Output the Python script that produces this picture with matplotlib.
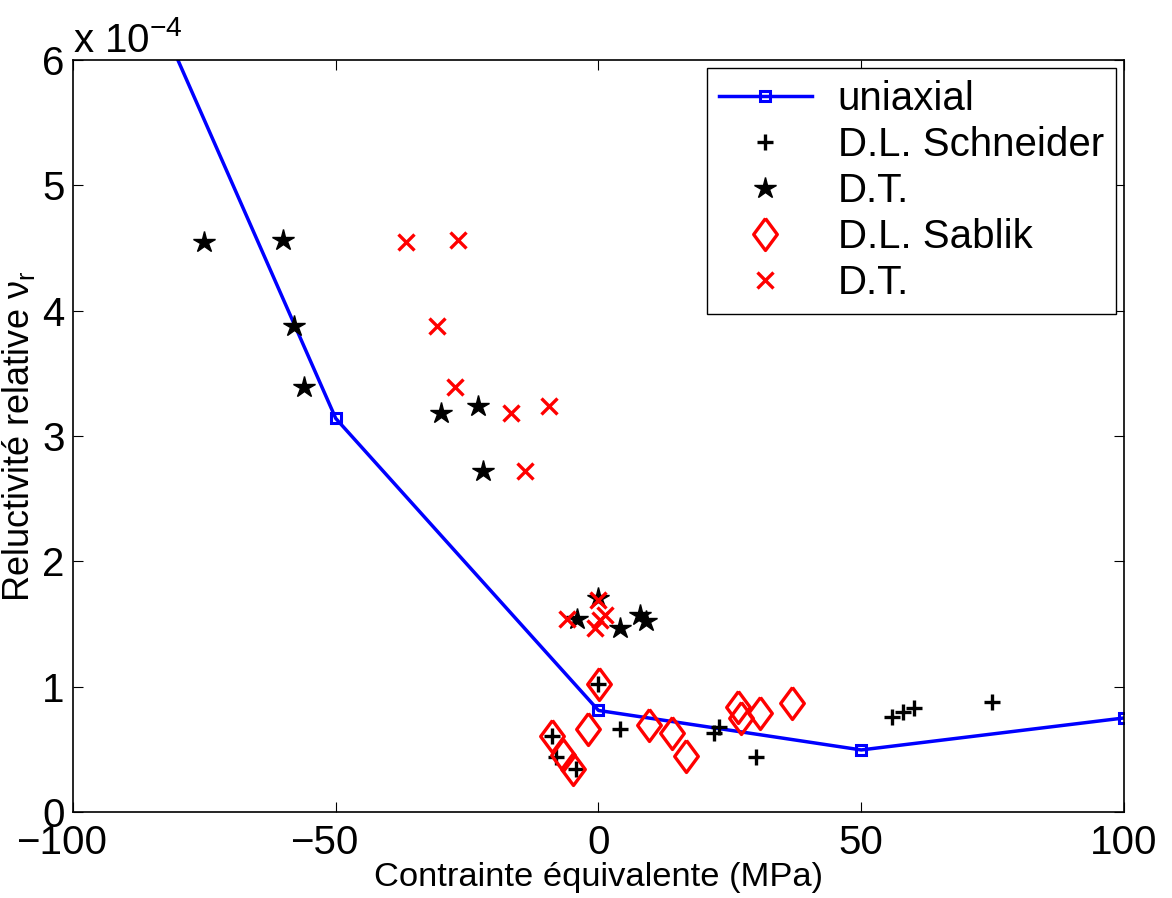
import matplotlib
matplotlib.use("Agg")
import matplotlib.pyplot as plt
from matplotlib.transforms import ScaledTranslation

plt.rcParams['font.family'] = ['Liberation Sans', 'DejaVu Sans']
plt.rcParams['mathtext.fontset'] = 'custom'
plt.rcParams['mathtext.rm'] = 'Liberation Sans'
plt.rcParams['mathtext.it'] = 'Liberation Sans'

# values in units of 1e-4
uni_x = [-100, -50, 0, 50, 100]
uni_y = [7.9, 3.14, 0.81, 0.495, 0.75]

schneider_x = [-8.9, -8.0, -4.2, 0.0, 4.0, 22.0, 22.9, 30.0, 55.8, 57.9, 60.0, 74.9]
schneider_y = [0.61, 0.44, 0.34, 1.02, 0.66, 0.63, 0.68, 0.44, 0.76, 0.80, 0.83, 0.875]

dt_black_x = [-75.0, -60.0, -57.9, -56.0, -30.0, -23.0, -22.0, -4.0, 0.0, 4.0, 7.9, 9.0]
dt_black_y = [4.55, 4.56, 3.88, 3.39, 3.18, 3.24, 2.72, 1.54, 1.71, 1.47, 1.57, 1.52]

sablik_x = [-8.9, -6.7, -4.8, -1.9, 0.1, 9.6, 14.0, 16.6, 26.6, 27.2, 30.7, 36.8]
sablik_y = [0.61, 0.455, 0.34, 0.66, 1.02, 0.69, 0.63, 0.45, 0.84, 0.75, 0.79, 0.87]

dt_red_x = [-36.6, -26.7, -30.7, -27.3, -16.7, -9.4, -14.0, -6.0, 0.0, 1.2, -0.7, 0.3]
dt_red_y = [4.55, 4.56, 3.88, 3.39, 3.18, 3.24, 2.72, 1.54, 1.69, 1.57, 1.47, 1.53]

x_ticks = [-100, -50, 0, 50, 100]
y_ticks = [0, 1, 2, 3, 4, 5, 6]

# matlab-like diamond (wider than 'd')
diamond = [(0, 1), (0.74, 0), (0, -1), (-0.74, 0), (0, 1)]

fig = plt.figure(figsize=(11.72, 8.98), dpi=100)
ax = fig.add_axes([0.0623, 0.0958, 0.8967, 0.8374])

ax.plot(uni_x, uni_y, '-', color='blue', lw=2.5, marker='s', ms=7.5,
        mfc='none', mec='blue', mew=2.2, label='uniaxial')
ax.plot(schneider_x, schneider_y, '+', color='black', ms=11, mew=2.4,
        label='D.L. Schneider')
ax.plot(dt_black_x, dt_black_y, '*', color='black', ms=16, label='D.T.')
ax.plot(sablik_x, sablik_y, ls='none', marker=diamond, ms=23, mfc='none',
        mec='red', mew=2.4, label='D.L. Sablik')
ax.plot(dt_red_x, dt_red_y, 'x', color='red', ms=11, mew=2.4, label='D.T.')

ax.set_xlim(-100, 100)
ax.set_ylim(0, 6)
ax.set_xticks(x_ticks)
ax.set_yticks(y_ticks)
ax.tick_params(direction='in', length=7, width=0.8, top=True, right=True,
               labelsize=29)
ax.tick_params(axis='x', pad=9)
ax.tick_params(axis='y', pad=6)
for s in ax.spines.values():
    s.set_linewidth(1.2)

ax.set_xlabel('Contrainte équivalente (MPa)', fontsize=24.8, labelpad=0)
ax.set_ylabel('Reluctivité relative ν$_{\\mathrm{r}}$', fontsize=26, labelpad=4)
fig.text(0.0623, 0.942, 'x 10$^{-4}$', fontsize=29, ha='left', va='baseline')

leg = ax.legend(loc='upper right', fontsize=29, fancybox=False, framealpha=1,
                edgecolor='black', borderaxespad=0.2, labelspacing=0.2,
                handlelength=2.3, handletextpad=0.65, borderpad=0.3)
leg.get_frame().set_linewidth(1.0)

# matlab hangs the minus sign left of the tick
fig.canvas.draw()
shift = ScaledTranslation(-0.117, 0, fig.dpi_scale_trans)
for lab in ax.get_xticklabels():
    if lab.get_text().startswith('\u2212') or lab.get_text().startswith('-'):
        lab.set_transform(lab.get_transform() + shift)

fig.savefig('out.png', dpi=100)
